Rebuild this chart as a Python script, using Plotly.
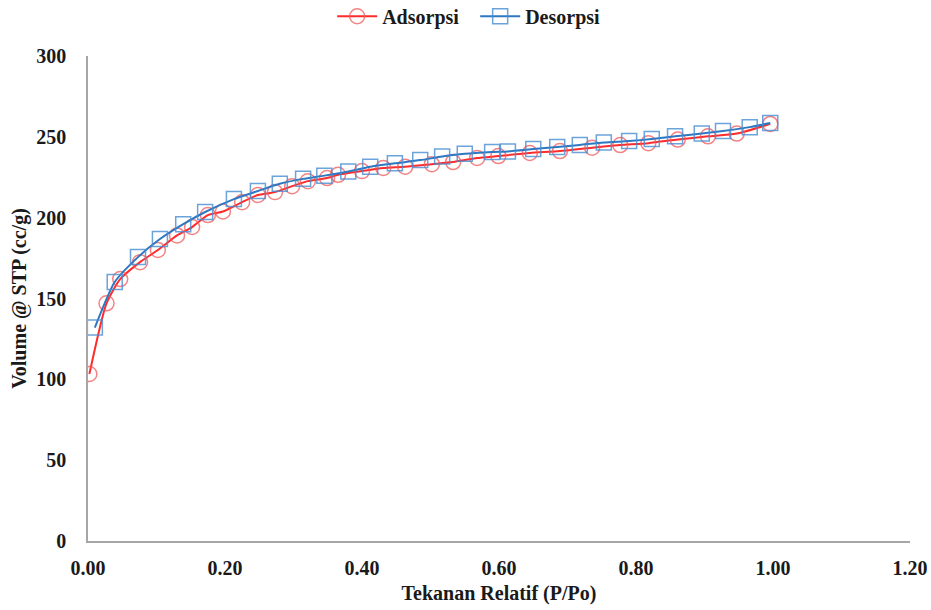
import plotly.graph_objects as go

ads_x = [0.002, 0.027, 0.047, 0.076, 0.102, 0.130, 0.152, 0.175, 0.197, 0.225, 0.248,
         0.273, 0.298, 0.321, 0.349, 0.365, 0.400, 0.431, 0.463, 0.502, 0.533, 0.568,
         0.599, 0.645, 0.689, 0.736, 0.777, 0.818, 0.861, 0.905, 0.947, 0.996]
ads_y = [103.3, 147.0, 162.0, 172.5, 180.0, 189.0, 194.2, 201.6, 203.8, 209.6, 214.0,
         215.8, 219.5, 222.6, 224.5, 226.5, 228.8, 230.7, 231.5, 233.1, 234.4, 236.9,
         238.1, 240.0, 241.2, 243.3, 244.9, 246.1, 248.3, 250.3, 252.0, 258.0]

des_x = [0.010, 0.039, 0.073, 0.105, 0.139, 0.171, 0.213, 0.248, 0.280, 0.314, 0.345,
         0.380, 0.412, 0.448, 0.485, 0.517, 0.550, 0.590, 0.613, 0.650, 0.685, 0.718,
         0.753, 0.790, 0.823, 0.857, 0.896, 0.927, 0.966, 0.996]
des_y = [132.0, 160.2, 175.6, 186.8, 196.0, 203.5, 211.5, 216.5, 221.0, 224.0, 226.0,
         228.6, 231.5, 233.6, 235.6, 237.8, 239.5, 240.6, 241.0, 242.4, 243.7, 245.0,
         246.5, 247.4, 248.6, 250.3, 252.0, 253.6, 256.0, 258.5]

x_ticks = [0, 0.2, 0.4, 0.6, 0.8, 1.0, 1.2]
x_tick_text = ["0.00", "0.20", "0.40", "0.60", "0.80", "1.00", "1.20"]
y_ticks = [0, 50, 100, 150, 200, 250, 300]

font_family = "Liberation Serif, Times New Roman, serif"
txt = "#1a1a1a"

fig = go.Figure()
fig.add_trace(go.Scatter(
    x=ads_x, y=ads_y, name="Adsorpsi", mode="lines+markers",
    line=dict(color="#FF2B2B", width=2, shape="spline", smoothing=0.6),
    marker=dict(symbol="circle-open", size=15, color="rgba(240,90,90,0.75)",
                line=dict(width=1.5, color="rgba(240,90,90,0.75)")),
))
fig.add_trace(go.Scatter(
    x=des_x, y=des_y, name="Desorpsi", mode="lines+markers",
    line=dict(color="#2E78C2", width=2, shape="spline", smoothing=0.6),
    marker=dict(symbol="square-open", size=15, color="rgba(70,140,210,0.8)",
                line=dict(width=1.5, color="rgba(70,140,210,0.8)")),
))

fig.update_layout(
    width=931, height=610,
    margin=dict(l=88, r=21, t=56, b=69, autoexpand=False),
    paper_bgcolor="white", plot_bgcolor="white",
    font=dict(family=font_family, size=20, color=txt),
    legend=dict(orientation="h", x=0.471, xanchor="center", y=1.082, yanchor="middle",
                font=dict(size=20, family=font_family, weight="bold"),
                itemwidth=40, entrywidth=88),
    xaxis=dict(range=[0, 1.2], tickvals=x_ticks, ticktext=x_tick_text, automargin=False,
               showgrid=False, zeroline=False, showline=True, linecolor="#A6A6A6",
               linewidth=1.5, ticks="", ticklabelstandoff=8,
               tickfont=dict(size=20, family=font_family, weight="bold", color=txt),
               title=dict(text="Tekanan Relatif (P/Po)", standoff=8,
                          font=dict(size=20, family=font_family, weight="bold", color=txt))),
    yaxis=dict(range=[0, 300], tickvals=y_ticks, automargin=False,
               showgrid=False, zeroline=False, showline=True, linecolor="#A6A6A6",
               linewidth=1.5, ticks="", ticklabelstandoff=16,
               tickfont=dict(size=20, family=font_family, weight="bold", color=txt),
               title=dict(text="Volume @ STP (cc/g)", standoff=4,
                          font=dict(size=20, family=font_family, weight="bold", color=txt))),
    showlegend=True,
)

fig.write_html(
    "out.html",
    config={"displayModeBar": False},
    post_script="document.body.style.margin='0';document.body.style.overflow='hidden';",
)
